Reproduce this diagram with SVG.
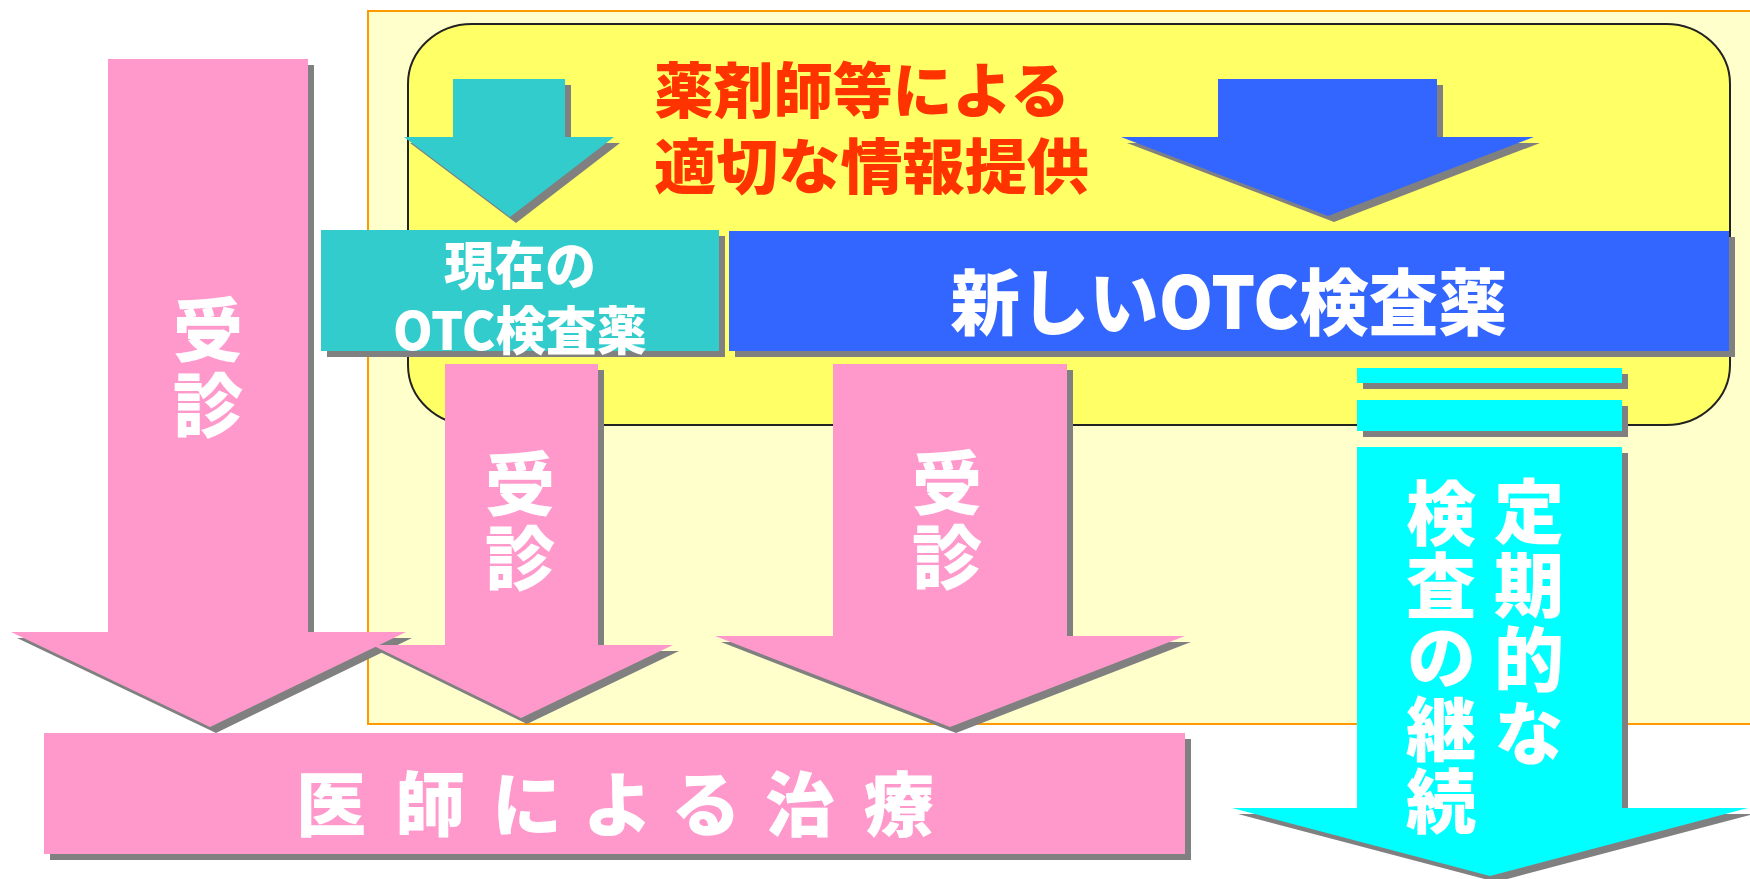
<svg xmlns="http://www.w3.org/2000/svg" width="1750" height="879" viewBox="0 0 1750 879">
<style>
  .t { font-family: 'Noto Sans CJK JP', 'Noto Sans CJK SC', sans-serif; font-weight: 900; fill: #FFFFFF; text-anchor: middle; dominant-baseline: central; }
  .v { font-family: 'Noto Sans CJK JP', 'Noto Sans CJK SC', sans-serif; font-weight: 900; fill: #FFFFFF; text-anchor: middle; writing-mode: vertical-rl; font-size: 70px; }
  .red { font-family: 'Noto Sans CJK JP', 'Noto Sans CJK SC', sans-serif; font-weight: 900; fill: #FF3300; dominant-baseline: central; }
  .sh { fill: #808080; }
  .pink { fill: #FF99CC; }
  .teal { fill: #33CCCC; }
  .blue { fill: #3366FF; }
  .cyan { fill: #00FFFF; }
</style>
<rect width="1750" height="879" fill="#FFFFFF"/>
<g id="background">
  <rect x="368" y="11" width="1400" height="713" fill="#FFFFCC" stroke="#FF9900" stroke-width="2"/>
  <rect x="408" y="24" width="1322" height="401" rx="64" ry="60" fill="#FFFF66" stroke="#222222" stroke-width="2"/>
</g>
<g id="info-text">
  <text class="red" x="654" y="86" font-size="60" textLength="416" lengthAdjust="spacingAndGlyphs">薬剤師等による</text>
  <text class="red" x="654" y="162" font-size="60" textLength="435" lengthAdjust="spacingAndGlyphs">適切な情報提供</text>
</g>
<g id="connectors">
  <g id="arrow-teal">
    <polygon class="sh" transform="translate(6,6)" points="453,79 565,79 565,137 614,137 510,217 404,137 453,137"/>
    <polygon class="teal" points="453,79 565,79 565,137 614,137 510,217 404,137 453,137"/>
  </g>
  <g id="arrow-blue">
    <polygon class="sh" transform="translate(6,6)" points="1218,79 1437,79 1437,137 1534,137 1328,216 1121,137 1218,137"/>
    <polygon class="blue" points="1218,79 1437,79 1437,137 1534,137 1328,216 1121,137 1218,137"/>
  </g>
  <g id="arrow-jushin-1">
    <polygon class="sh" transform="translate(6,6)" points="108,59 308,59 308,632 406,632 210,727 11,632 108,632"/>
    <polygon class="pink" points="108,59 308,59 308,632 406,632 210,727 11,632 108,632"/>
    <text class="v" x="208" y="370" letter-spacing="5">受診</text>
  </g>
  <g id="arrow-jushin-2">
    <polygon class="sh" transform="translate(6,6)" points="445,364 598,364 598,645 673,645 521,718 372,645 445,645"/>
    <polygon class="pink" points="445,364 598,364 598,645 673,645 521,718 372,645 445,645"/>
    <text class="v" x="520" y="523" letter-spacing="4">受診</text>
  </g>
  <g id="arrow-jushin-3">
    <polygon class="sh" transform="translate(6,6)" points="833,364 1067,364 1067,636 1185,636 950,727 715,636 833,636"/>
    <polygon class="pink" points="833,364 1067,364 1067,636 1185,636 950,727 715,636 833,636"/>
    <text class="v" x="947" y="522" letter-spacing="4">受診</text>
  </g>
  <g id="arrow-teiki">
    <rect class="sh" x="1363" y="374" width="265" height="15"/>
    <rect class="cyan" x="1357" y="368" width="265" height="15"/>
    <rect class="sh" x="1363" y="406" width="265" height="31"/>
    <rect class="cyan" x="1357" y="400" width="265" height="31"/>
    <polygon class="sh" transform="translate(6,6)" points="1357,447 1622,447 1622,808 1748,808 1490,876 1232,808 1357,808"/>
    <polygon class="cyan" points="1357,447 1622,447 1622,808 1748,808 1490,876 1232,808 1357,808"/>
    <text class="v" x="1529" y="624" letter-spacing="4">定期的な</text>
    <text class="v" x="1441" y="658" letter-spacing="2">検査の継続</text>
  </g>
</g>
<g id="node-current-otc">
  <rect class="sh" x="327" y="236" width="398" height="121"/>
  <rect class="teal" x="321" y="230" width="398" height="121"/>
  <text class="t" x="520" y="262" font-size="52" textLength="152" lengthAdjust="spacingAndGlyphs">現在の</text>
  <text class="t" x="520" y="327" font-size="52" textLength="254" lengthAdjust="spacingAndGlyphs">OTC検査薬</text>
</g>
<g id="node-new-otc">
  <rect class="sh" x="735" y="237" width="1000" height="120"/>
  <rect class="blue" x="729" y="231" width="1000" height="120"/>
  <text class="t" x="1229" y="297" font-size="72" textLength="557" lengthAdjust="spacingAndGlyphs">新しいOTC検査薬</text>
</g>
<g id="node-treatment">
  <rect class="sh" x="50" y="739" width="1141" height="121"/>
  <rect class="pink" x="44" y="733" width="1141" height="121"/>
  <text class="t" font-size="70"><tspan x="331" y="800">医</tspan><tspan x="430" y="800">師</tspan><tspan x="527" y="800">に</tspan><tspan x="618" y="800">よ</tspan><tspan x="706" y="800">る</tspan><tspan x="800" y="800">治</tspan><tspan x="899" y="800">療</tspan></text>
</g>
</svg>
